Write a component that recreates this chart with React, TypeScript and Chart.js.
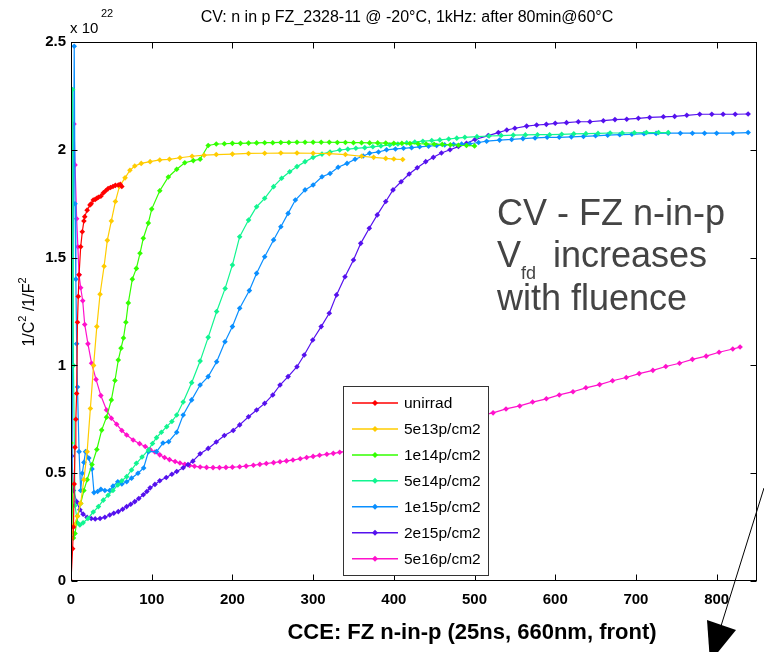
import React, { useEffect, useRef } from 'react';
import { Chart, registerables } from 'chart.js';

Chart.register(...registerables);

const seriesLabels = ['unirrad', '5e13p/cm2', '1e14p/cm2', '5e14p/cm2', '1e15p/cm2', '2e15p/cm2', '5e16p/cm2'];
const seriesColors = ['#ff0000', '#ffcc00', '#33ff00', '#11f590', '#0a8fff', '#5511ee', '#ff11cc'];

const xTicks = [0, 100, 200, 300, 400, 500, 600, 700, 800];
const yTicks = [0, 0.5, 1, 1.5, 2, 2.5];

const unirrad: [number, number][] = [
  [0, 0], [2, 0.15], [3, 0.25], [4, 0.45], [5, 0.62], [6, 0.75], [7, 0.87], [8, 1.2], [9, 1.32], [10, 1.42],
  [12, 1.55], [14, 1.62], [16, 1.67], [17, 1.69], [20, 1.72], [23.5, 1.744], [25, 1.75], [27.6, 1.767], [30, 1.77],
  [32, 1.775], [34, 1.78], [37, 1.785], [40, 1.8], [43, 1.81], [46, 1.82], [49, 1.825], [52, 1.83], [55, 1.835],
  [58.6, 1.837], [61, 1.84], [63, 1.83],
];

const fl5e13: [number, number][] = [
  [0, 0.2], [4, 0.26], [8, 0.3], [12, 0.36], [16, 0.47], [20, 0.6], [24, 0.8], [28, 1.0], [32, 1.18], [36, 1.33],
  [41, 1.46], [45, 1.58], [50, 1.67], [55, 1.76], [60, 1.83], [67, 1.87], [73, 1.905], [79, 1.925], [87, 1.937],
  [98, 1.945], [110, 1.953], [122, 1.956], [135, 1.963], [150, 1.97], [165, 1.975], [180, 1.978], [200, 1.98],
  [220, 1.983], [240, 1.984], [260, 1.985], [280, 1.985], [300, 1.984], [320, 1.982], [340, 1.978], [360, 1.97],
  [375, 1.965], [390, 1.96], [400, 1.957], [411, 1.955],
];

const fl1e14: [number, number][] = [
  [0, 0.64], [3, 0.2], [5, 0.22], [8, 0.3], [12, 0.36], [16, 0.42], [20, 0.47], [26, 0.54], [32, 0.61], [38, 0.7],
  [44, 0.76], [50, 0.84], [54.5, 0.93], [58.6, 1.025], [62, 1.08], [65, 1.127], [68, 1.2], [71, 1.29], [76, 1.4],
  [81, 1.45], [85.5, 1.52], [89.6, 1.59], [95.8, 1.66], [100, 1.725], [110, 1.81], [120.6, 1.874], [131, 1.91],
  [141, 1.94], [151.5, 1.95], [160, 1.956], [170, 2.02], [180, 2.027], [190, 2.028], [200, 2.03], [210, 2.03],
  [220, 2.031], [230, 2.032], [240, 2.033], [250, 2.033], [260, 2.034], [270, 2.034], [280, 2.035], [290, 2.035],
  [300, 2.035], [310, 2.035], [320, 2.035], [330, 2.034], [340, 2.034], [350, 2.033], [360, 2.033], [370, 2.032],
  [380, 2.032], [390, 2.031], [400, 2.03], [410, 2.03], [420, 2.029], [430, 2.028], [440, 2.027], [450, 2.026],
  [460, 2.025], [470, 2.023], [480, 2.021], [490, 2.02], [500, 2.018],
];

const fl5e14: [number, number][] = [
  [0, 0.2], [2, 2.28], [3, 1.0], [5, 0.35], [8, 0.27], [11, 0.26], [15, 0.27], [21, 0.29], [27.6, 0.32], [34, 0.345],
  [40, 0.375], [46, 0.398], [52, 0.42], [58, 0.445], [63, 0.465], [69, 0.484], [75, 0.515], [81, 0.546], [88, 0.575],
  [96, 0.608], [101, 0.638], [106, 0.665], [112, 0.69], [118.6, 0.716], [125, 0.74], [131, 0.77], [139, 0.83],
  [149.5, 0.92], [160, 1.02], [170, 1.13], [180.5, 1.25], [191, 1.357], [200, 1.466], [209, 1.597], [220, 1.674],
  [230, 1.736], [240, 1.775], [251, 1.829], [261, 1.868], [271, 1.898], [280, 1.922], [290, 1.945], [300, 1.965],
  [311, 1.98], [321, 1.99], [333, 1.999], [343, 2.003], [353, 2.007], [364, 2.01], [374, 2.014], [384, 2.018],
  [395, 2.022], [405, 2.027], [416, 2.032], [426, 2.036], [436, 2.04], [447, 2.043], [457, 2.046], [468, 2.05],
  [478, 2.054], [488, 2.058], [503, 2.061], [518, 2.064], [533, 2.066], [548, 2.068], [563, 2.069], [578, 2.07],
  [593, 2.07], [608, 2.072], [623, 2.074], [638, 2.075], [653, 2.076], [668, 2.078], [683, 2.078], [698, 2.079],
  [713, 2.08], [728, 2.08], [740, 2.08],
];

const fl1e15: [number, number][] = [
  [1, 0.35], [4, 2.48], [5, 1.75], [6, 1.4], [7, 1.1], [8, 0.9], [10, 0.6], [12, 0.42], [14, 0.5], [16, 0.55],
  [18, 0.6], [22, 0.57], [26, 0.52], [28.5, 0.41], [33, 0.415], [37, 0.425], [42, 0.42], [48, 0.42], [52, 0.44],
  [58, 0.46], [63, 0.45], [69, 0.46], [75, 0.477], [83, 0.5], [90, 0.524], [96, 0.6], [106, 0.6], [114, 0.64],
  [121, 0.646], [131, 0.69], [139, 0.77], [149.5, 0.84], [160, 0.909], [170, 0.948], [180.5, 1.017], [190.8, 1.11],
  [200, 1.18], [209, 1.265], [221, 1.347], [230, 1.427], [240, 1.504], [251, 1.582], [260, 1.643], [269, 1.705],
  [278, 1.767], [290, 1.814], [300, 1.837], [311, 1.875], [321, 1.89], [331, 1.919], [342, 1.937], [352, 1.956],
  [362, 1.971], [370, 1.984], [381, 1.99], [391, 2.0], [402, 2.004], [412, 2.007], [422, 2.01], [432, 2.014],
  [443, 2.017], [453, 2.02], [463, 2.023], [474, 2.025], [484, 2.027], [494, 2.028], [505, 2.034], [515, 2.04],
  [531, 2.045], [546, 2.048], [560, 2.052], [575, 2.055], [590, 2.058], [605, 2.058], [620, 2.06], [635, 2.062],
  [650, 2.065], [665, 2.068], [680, 2.07], [695, 2.072], [710, 2.075], [725, 2.076], [740, 2.077], [755, 2.077],
  [770, 2.077], [785, 2.077], [800, 2.077], [820, 2.077], [839, 2.08],
];

const fl2e15: [number, number][] = [
  [0, 1.97], [1, 0.58], [3, 0.42], [7, 0.368], [11, 0.33], [15, 0.31], [20, 0.295], [25, 0.29], [30, 0.288],
  [36, 0.29], [42, 0.296], [48, 0.306], [53, 0.314], [58.6, 0.322], [64, 0.333], [69, 0.345], [74, 0.356],
  [79, 0.368], [84, 0.383], [89.6, 0.4], [94, 0.415], [98, 0.432], [104, 0.448], [110, 0.465], [118, 0.48],
  [125, 0.495], [131, 0.508], [139, 0.525], [145, 0.54], [151, 0.556], [160, 0.59], [170, 0.615], [180, 0.645],
  [190, 0.675], [201, 0.698], [209, 0.724], [220, 0.762], [230, 0.793], [240, 0.824], [250, 0.863], [259, 0.909],
  [269, 0.948], [280, 0.994], [289, 1.048], [299.5, 1.118], [310, 1.18], [320, 1.242], [329, 1.327], [339.5, 1.411],
  [350, 1.489], [359, 1.566], [369.6, 1.636], [379.5, 1.698], [390, 1.76], [399, 1.814], [409, 1.852], [419, 1.888],
  [429, 1.917], [439.5, 1.945], [449, 1.965], [459, 1.985], [469.6, 2.0], [480, 2.015], [490, 2.03], [500.6, 2.048],
  [517, 2.066], [529.5, 2.08], [540, 2.092], [550, 2.1], [564.6, 2.11], [577, 2.115], [589, 2.118], [600, 2.123],
  [614, 2.126], [628.6, 2.13], [643, 2.13], [659.6, 2.135], [674, 2.14], [688.6, 2.142], [703, 2.146], [717, 2.15],
  [734, 2.153], [748, 2.155], [763, 2.16], [779, 2.165], [794, 2.165], [808, 2.165], [823, 2.165], [839, 2.166],
];

const fl5e16: [number, number][] = [
  [1, 2.1], [3.7, 2.12], [5, 1.93], [7, 1.68], [8.5, 1.55], [10, 1.42], [12, 1.36], [14.5, 1.3], [17, 1.19],
  [21, 1.1], [25.5, 1.01], [31, 0.935], [37, 0.86], [44, 0.793], [50, 0.755], [56.6, 0.727], [63, 0.698],
  [69, 0.677], [77, 0.654], [85, 0.637], [92, 0.624], [98, 0.61], [104, 0.598], [110, 0.585], [116, 0.573],
  [122, 0.563], [129, 0.554], [135, 0.547], [141, 0.541], [147, 0.536], [153, 0.532], [160, 0.529], [168, 0.527],
  [176, 0.526], [184, 0.526], [192, 0.527], [200, 0.528], [209, 0.53], [217, 0.533], [226, 0.537], [234, 0.541],
  [242, 0.545], [251, 0.549], [259, 0.553], [267, 0.557], [275, 0.561], [284, 0.567], [292, 0.573], [300, 0.578],
  [308, 0.583], [317, 0.588], [325, 0.592], [333, 0.597], [341, 0.602], [358, 0.617], [374, 0.635], [391, 0.65],
  [407, 0.668], [424, 0.683], [440, 0.701], [457, 0.716], [473, 0.734], [490, 0.749], [506, 0.767], [523, 0.78],
  [539, 0.798], [556, 0.812], [572, 0.83], [589, 0.845], [605, 0.863], [622, 0.878], [638, 0.896], [655, 0.911],
  [671, 0.929], [688, 0.944], [704, 0.962], [721, 0.977], [737, 0.995], [754, 1.01], [770, 1.028], [787, 1.043],
  [803, 1.061], [820, 1.076], [829, 1.085],
];

const seriesData = [unirrad, fl5e13, fl1e14, fl5e14, fl1e15, fl2e15, fl5e16];

const titleText = 'CV: n in p FZ_2328-11 @ -20°C, 1kHz: after 80min@60°C';
const xTitleText = 'CCE: FZ n-in-p (25ns, 660nm, front)';
const noteLines = ['CV - FZ n-in-p', 'increases', 'with fluence'];

const SANS = '"Liberation Sans", Arial, Helvetica, sans-serif';

function drawMarker(ctx: CanvasRenderingContext2D, x: number, y: number, color: string) {
  ctx.fillStyle = color;
  ctx.beginPath();
  ctx.moveTo(x, y - 3);
  ctx.lineTo(x + 3, y);
  ctx.lineTo(x, y + 3);
  ctx.lineTo(x - 3, y);
  ctx.closePath();
  ctx.fill();
}

const decorPlugin = {
  id: 'decor',
  beforeDraw(chart: any) {
    const ctx = chart.ctx;
    ctx.save();
    ctx.fillStyle = '#ffffff';
    ctx.fillRect(0, 0, chart.width, chart.height);
    ctx.restore();
  },
  afterDraw(chart: any) {
    const ctx: CanvasRenderingContext2D = chart.ctx;
    const { left, right, top, bottom } = chart.chartArea;
    const xs = chart.scales.x;
    const ys = chart.scales.y;
    ctx.save();

    // Box
    ctx.strokeStyle = '#000';
    ctx.lineWidth = 1;
    const L = Math.round(left) + 0.5;
    const R = Math.round(right) - 0.5;
    const T = Math.round(top) + 0.5;
    const B = Math.round(bottom) - 0.5;
    ctx.strokeRect(L, T, R - L, B - T);

    // Inward ticks
    const tl = 6;
    ctx.beginPath();
    xTicks.forEach((v) => {
      const px = Math.round(xs.getPixelForValue(v)) + 0.5;
      ctx.moveTo(px, B);
      ctx.lineTo(px, B - tl);
      ctx.moveTo(px, T);
      ctx.lineTo(px, T + tl);
    });
    yTicks.forEach((v) => {
      const py = Math.round(ys.getPixelForValue(v)) + 0.5;
      ctx.moveTo(L, py);
      ctx.lineTo(L + tl, py);
      ctx.moveTo(R, py);
      ctx.lineTo(R - tl, py);
    });
    ctx.stroke();

    // Title
    ctx.fillStyle = '#000';
    ctx.textAlign = 'center';
    ctx.textBaseline = 'middle';
    ctx.font = `16px ${SANS}`;
    ctx.fillText(titleText, 407, 18);

    // x 10^22
    ctx.textAlign = 'left';
    ctx.font = `15px ${SANS}`;
    ctx.fillText('x 10', 70, 29);
    ctx.font = `11px ${SANS}`;
    ctx.fillText('22', 101, 14);

    // Y axis title (rotated)
    ctx.save();
    ctx.translate(30, 312);
    ctx.rotate(-Math.PI / 2);
    ctx.textBaseline = 'middle';
    const parts: [string, boolean][] = [['1/C', false], ['2', true], [' /1/F', false], ['2', true]];
    let total = 0;
    parts.forEach(([t, sup]) => {
      ctx.font = sup ? `11px ${SANS}` : `16px ${SANS}`;
      total += ctx.measureText(t).width;
    });
    let cx = -total / 2;
    parts.forEach(([t, sup]) => {
      ctx.font = sup ? `11px ${SANS}` : `16px ${SANS}`;
      ctx.fillText(t, cx, sup ? -7 : 0);
      cx += ctx.measureText(t).width;
    });
    ctx.restore();

    // X axis title
    ctx.textAlign = 'center';
    ctx.textBaseline = 'middle';
    ctx.font = `bold 22px ${SANS}`;
    ctx.fillStyle = '#000';
    ctx.fillText(xTitleText, 472, 633);

    // Annotation
    ctx.fillStyle = '#444444';
    ctx.textAlign = 'left';
    ctx.textBaseline = 'alphabetic';
    ctx.font = `36px ${SANS}`;
    ctx.fillText(noteLines[0], 497, 225);
    ctx.fillText('V', 497, 267);
    ctx.fillText(noteLines[1], 553, 267);
    ctx.fillText(noteLines[2], 497, 310);
    ctx.font = `18px ${SANS}`;
    ctx.fillText('fd', 521, 279);

    // Legend
    const lx = 343, ly = 386, lw = 145, lh = 189;
    ctx.fillStyle = '#fff';
    ctx.fillRect(lx, ly, lw, lh);
    ctx.strokeStyle = '#333';
    ctx.lineWidth = 1;
    ctx.strokeRect(lx + 0.5, ly + 0.5, lw, lh);
    ctx.font = `15.5px ${SANS}`;
    ctx.textBaseline = 'middle';
    chart.data.datasets.forEach((ds: any, i: number) => {
      const ey = 403 + i * 25.95;
      ctx.strokeStyle = ds.borderColor;
      ctx.lineWidth = 1.5;
      ctx.beginPath();
      ctx.moveTo(352, ey);
      ctx.lineTo(398, ey);
      ctx.stroke();
      drawMarker(ctx, 375, ey, ds.borderColor);
      ctx.fillStyle = '#000';
      ctx.fillText(ds.label, 404, ey + 1);
    });

    // Arrow
    ctx.strokeStyle = '#000';
    ctx.lineWidth = 1;
    ctx.beginPath();
    ctx.moveTo(764, 488);
    ctx.lineTo(721, 626);
    ctx.stroke();
    ctx.fillStyle = '#000';
    ctx.beginPath();
    ctx.moveTo(707, 620);
    ctx.lineTo(736, 630);
    ctx.lineTo(710, 662);
    ctx.closePath();
    ctx.fill();

    ctx.restore();
  },
};

export default function App() {
  const canvasRef = useRef<HTMLCanvasElement | null>(null);

  useEffect(() => {
    document.body.style.margin = '0';
    const canvas = canvasRef.current;
    if (!canvas) return;
    const chart = new Chart(canvas, {
      type: 'line',
      data: {
        datasets: seriesData.map((d, i) => ({
          label: seriesLabels[i],
          data: d.map(([x, y]) => ({ x, y })),
          borderColor: seriesColors[i],
          backgroundColor: seriesColors[i],
          borderWidth: 1.2,
          pointStyle: 'rectRot',
          pointRadius: 2.8,
          pointBorderWidth: 0,
          pointBackgroundColor: seriesColors[i],
          tension: 0,
          fill: false,
        })),
      },
      options: {
        animation: false,
        responsive: false,
        devicePixelRatio: 1,
        layout: { padding: { top: 42, right: 7, left: 0, bottom: 0 } },
        plugins: {
          legend: { display: false },
          title: { display: false },
          tooltip: { enabled: false },
        },
        scales: {
          x: {
            type: 'linear',
            min: 0,
            max: 850,
            afterFit: (s: any) => { s.height = 71; },
            afterBuildTicks: (s: any) => { s.ticks = xTicks.map((v) => ({ value: v })); },
            grid: { display: false, drawTicks: false },
            border: { display: false },
            ticks: {
              padding: 10,
              color: '#000',
              font: { family: SANS, size: 15, weight: 'bold' },
              callback: (v: any) => String(v),
            },
          },
          y: {
            type: 'linear',
            min: 0,
            max: 2.5,
            afterFit: (s: any) => { s.width = 71; },
            afterBuildTicks: (s: any) => { s.ticks = yTicks.map((v) => ({ value: v })); },
            grid: { display: false, drawTicks: false },
            border: { display: false },
            ticks: {
              padding: 5,
              color: '#000',
              font: { family: SANS, size: 15, weight: 'bold' },
              callback: (v: any) => String(v),
            },
          },
        },
      },
      plugins: [decorPlugin],
    });
    return () => chart.destroy();
  }, []);

  return (
    <div style={{ position: 'absolute', left: 0, top: 0, width: 764, height: 652 }}>
      <canvas ref={canvasRef} width={764} height={652} style={{ width: 764, height: 652 }} />
    </div>
  );
}
